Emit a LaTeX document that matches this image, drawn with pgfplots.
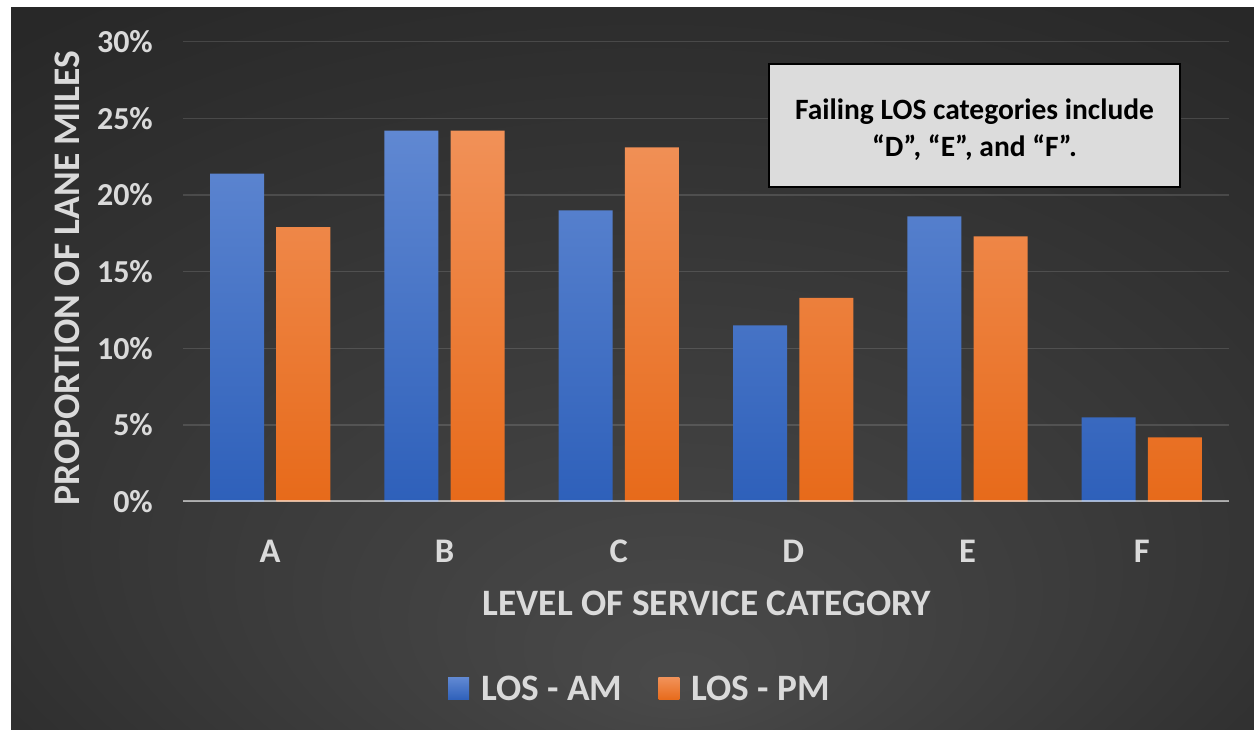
\documentclass[border=0pt]{standalone}
\usepackage{fontspec}
\setmainfont{Carlito}
\usepackage{pgfplots}
\usepackage{pgfplotstable}
\pgfplotsset{compat=1.18}
\definecolor{txt}{HTML}{DADADA}
\definecolor{bgin}{HTML}{4A4A4A}
\definecolor{bgout}{HTML}{282828}
\definecolor{btop}{HTML}{6088D2}
\definecolor{bbot}{HTML}{2E60BA}
\definecolor{otop}{HTML}{F19158}
\definecolor{obot}{HTML}{E76A1A}
\definecolor{boxfill}{HTML}{DCDCDC}
\pgfdeclareradialshading{chartbg}{\pgfpoint{2bp}{-22bp}}{color(0bp)=(bgin); color(38bp)=(bgout); color(50bp)=(bgout)}

\pgfplotstableread{
x am pm
0 21.4 17.9
1 24.2 24.2
2 19.0 23.1
3 11.5 13.3
4 18.6 17.3
5 5.5 4.2
}\datatable

\begin{document}
\begin{tikzpicture}
\path[use as bounding box] (0pt,0pt) rectangle (1254pt,730pt);
\fill[white] (0pt,0pt) rectangle (1254pt,730pt);
\shade[shading=chartbg] (11pt,0pt) rectangle (1254pt,722pt);
\begin{axis}[
  at={(183pt,228.3pt)}, anchor=south west,
  scale only axis, width=1046pt, height=460pt,
  xmin=-0.5, xmax=5.5, ymin=0, ymax=30,
  ybar, bar width=0.31,
  xtick={0,1,2,3,4,5}, xticklabels={A,B,C,D,E,F},
  ytick={0,5,10,15,20,25,30},
  yticklabels={0\%,5\%,10\%,15\%,20\%,25\%,30\%},
  ymajorgrids,
  major grid style={white, opacity=0.13, line width=1.5pt},
  axis line style={draw=none},
  tick style={draw=none}, major tick length=0pt,
  yticklabel style={anchor=east, inner sep=0pt, xshift=-30pt, text=txt, font=\fontsize{32}{32}\selectfont\bfseries},
  xticklabel style={anchor=north, inner sep=0pt, yshift=-38pt, text=txt, font=\fontsize{34.5}{34.5}\selectfont\bfseries},
  xlabel={LEVEL OF SERVICE CATEGORY},
  ylabel={PROPORTION OF LANE MILES},
  xlabel style={at={(axis description cs:0.501,-0.221)}, anchor=center, inner sep=0pt, text=txt, font=\fontsize{37.3}{37.3}\selectfont\bfseries},
  ylabel style={at={(axis description cs:-0.111,0.486)}, anchor=center, inner sep=0pt, text=txt, font=\fontsize{37.5}{37.5}\selectfont\bfseries},
  legend columns=2,
  legend style={at={(axis description cs:0.437,-0.407)}, anchor=center, draw=none, fill=none, text=txt,
    font=\fontsize{37.3}{37.3}\selectfont\bfseries,
    /tikz/every odd column/.append style={column sep=10pt},
    /tikz/every even column/.append style={column sep=34pt}},
  legend image code/.code={\fill[#1] (0pt,-11pt) rectangle (21pt,11pt);},
]
\addplot[bar shift=-0.19, draw=none, top color=btop, bottom color=bbot] table[x=x, y=am] {\datatable};
\addlegendentry{LOS - AM}
\addplot[bar shift=0.19, draw=none, top color=otop, bottom color=obot] table[x=x, y=pm] {\datatable};
\addlegendentry{LOS - PM}
\draw[white, opacity=0.55, line width=2.5pt] (rel axis cs:0,0) -- (rel axis cs:1,0);
\end{axis}
\node[draw=black, line width=2pt, fill=boxfill, minimum width=411pt, minimum height=123pt, inner sep=0pt] at (974.5pt,604.5pt) {};
\node[align=center, font=\fontsize{29.5}{37}\selectfont\bfseries, text=black, inner sep=0pt] at (974.5pt,600pt)
  {Failing LOS categories include\\“D”, “E”, and “F”.};
\end{tikzpicture}
\end{document}
